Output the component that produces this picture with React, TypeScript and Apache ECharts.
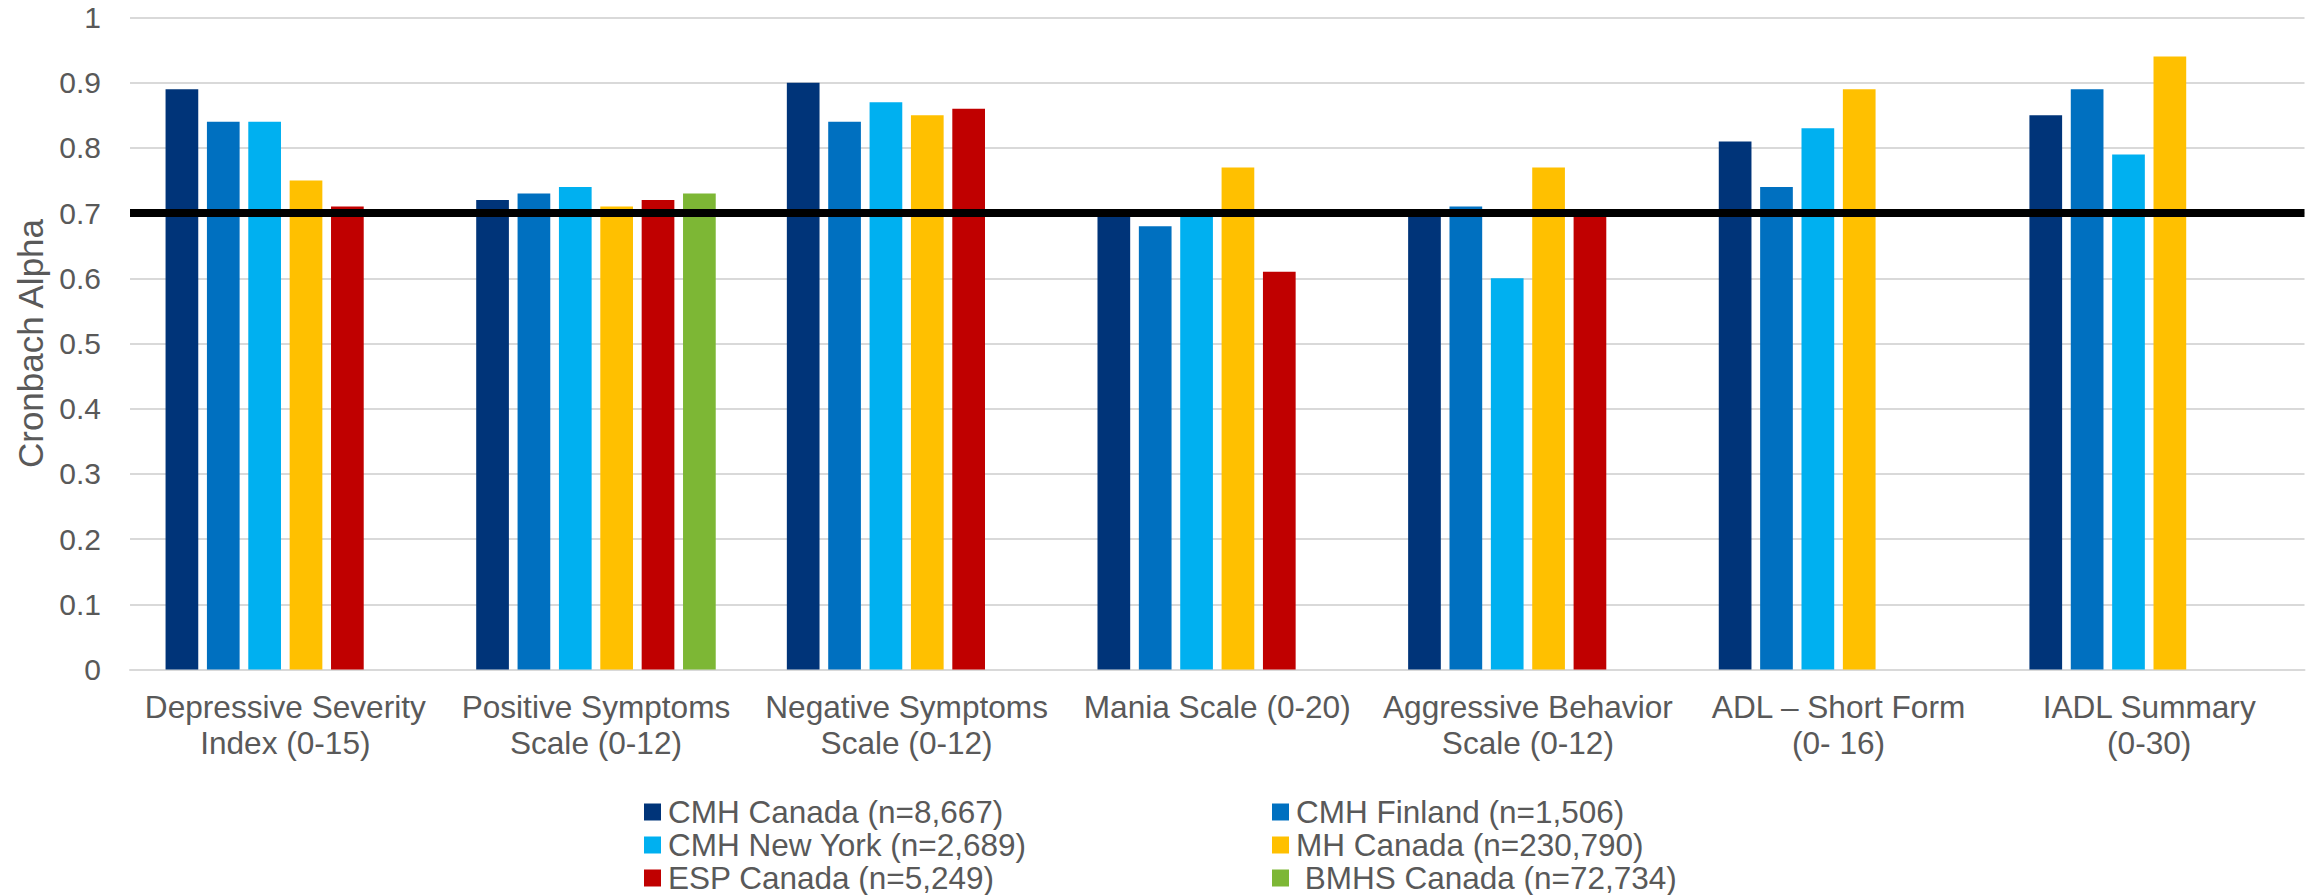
import React, { useEffect, useRef } from "react";
import * as echarts from "echarts";

// Scales shown along the x axis
const categories = [
  "Depressive Severity\nIndex (0-15)",
  "Positive Symptoms\nScale (0-12)",
  "Negative Symptoms\nScale (0-12)",
  "Mania Scale (0-20)",
  "Aggressive Behavior\nScale (0-12)",
  "ADL – Short Form\n(0- 16)",
  "IADL Summary\n(0-30)",
];

// Sample names (legend entries)
const seriesNames = [
  "CMH Canada (n=8,667)",
  "CMH Finland (n=1,506)",
  "CMH New York (n=2,689)",
  "MH Canada (n=230,790)",
  "ESP Canada (n=5,249)",
  "BMHS Canada (n=72,734)",
];

const seriesColors = ["#003479", "#0070C0", "#00B0F0", "#FFC000", "#C00000", "#7DB735"];

// Cronbach alpha per scale, one array per sample (null = not reported)
const cmhCanada = [0.89, 0.72, 0.9, 0.7, 0.7, 0.81, 0.85];
const cmhFinland = [0.84, 0.73, 0.84, 0.68, 0.71, 0.74, 0.89];
const cmhNewYork = [0.84, 0.74, 0.87, 0.7, 0.6, 0.83, 0.79];
const mhCanada = [0.75, 0.71, 0.85, 0.77, 0.77, 0.89, 0.94];
const espCanada = [0.71, 0.72, 0.86, 0.61, 0.7, null, null];
const bmhsCanada = [null, 0.73, null, null, null, null, null];

const seriesValues = [cmhCanada, cmhFinland, cmhNewYork, mhCanada, espCanada, bmhsCanada];

// Acceptability threshold for internal consistency
const threshold = 0.7;

// Y axis ticks
const yMin = 0;
const yMax = 1;
const yStep = 0.1;

const FONT = "'Liberation Sans', Arial, sans-serif";
const TEXT = "#595959";

export default function App() {
  const ref = useRef<HTMLDivElement>(null);

  useEffect(() => {
    document.body.style.margin = "0";
    if (!ref.current) return;
    const chart = echarts.init(ref.current, undefined, { renderer: "svg" });

    const series: any[] = seriesNames.map((name, i) => ({
      name,
      type: "bar",
      data: seriesValues[i],
      barWidth: 32.7,
      barGap: "26.5%",
      itemStyle: { color: seriesColors[i] },
      ...(i === 0
        ? {
            markLine: {
              silent: true,
              symbol: "none",
              label: { show: false },
              lineStyle: { color: "#000000", width: 8, type: "solid" },
              data: [{ yAxis: threshold }],
            },
          }
        : {}),
    }));

    const legendText = {
      fontFamily: FONT,
      fontSize: 31.5,
      color: TEXT,
      lineHeight: 32,
      padding: [0, 0, 0, 2],
    };

    const legendBase = {
      orient: "vertical",
      top: 796,
      padding: 0,
      itemWidth: 17,
      itemHeight: 17,
      itemGap: 1,
      icon: "rect",
      textStyle: legendText,
      selectedMode: false,
    };

    chart.setOption({
      animation: false,
      backgroundColor: "#ffffff",
      grid: { left: 130, right: 10.5, top: 17.5, height: 652, containLabel: false },
      legend: [
        {
          ...legendBase,
          left: 644,
          data: [seriesNames[0], seriesNames[2], seriesNames[4]],
        },
        {
          ...legendBase,
          left: 1272,
          data: [seriesNames[1], seriesNames[3], seriesNames[5]],
          formatter: (name: string) => (name === seriesNames[5] ? "\u00a0" + name : name),
        },
      ],
      xAxis: {
        type: "category",
        data: categories,
        axisTick: { show: false },
        axisLine: { lineStyle: { color: "#d9d9d9", width: 2 } },
        axisLabel: {
          interval: 0,
          margin: 19,
          fontFamily: FONT,
          fontSize: 31.6,
          lineHeight: 36,
          color: TEXT,
          align: "center",
        },
      },
      yAxis: {
        type: "value",
        min: yMin,
        max: yMax,
        interval: yStep,
        name: "Cronbach Alpha",
        nameLocation: "middle",
        nameGap: 80,
        nameTextStyle: { fontFamily: FONT, fontSize: 35, color: TEXT },
        axisLine: { show: false },
        axisTick: { show: false },
        splitLine: { lineStyle: { color: "#d9d9d9", width: 2 } },
        axisLabel: { margin: 29, fontFamily: FONT, fontSize: 30, color: TEXT },
      },
      series,
    });

    return () => chart.dispose();
  }, []);

  return (
    <div
      ref={ref}
      style={{ position: "fixed", left: 0, top: 0, width: 2315, height: 895, background: "#fff" }}
    />
  );
}
